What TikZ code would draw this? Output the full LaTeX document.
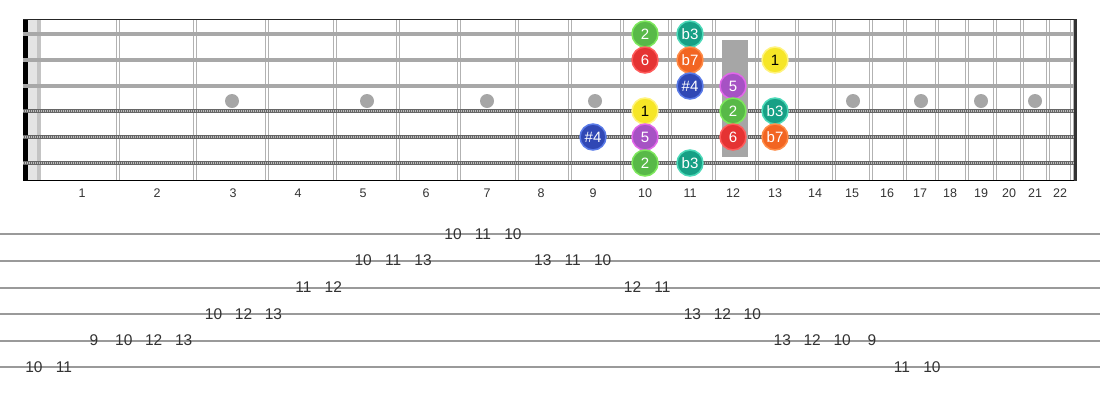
\documentclass[tikz,border=0pt]{standalone}
\usepackage{fontspec}
\setmainfont{Liberation Sans}
\definecolor{fretc}{HTML}{B2B2B2}
\definecolor{strc}{HTML}{A8A8A8}
\definecolor{woundc}{HTML}{666666}
\definecolor{woundl}{HTML}{BDBDBD}
\definecolor{tabc}{HTML}{9A9A9A}
\definecolor{inlayc}{HTML}{A6A6A6}
\definecolor{nutl}{HTML}{E4E4E4}
\definecolor{nutd}{HTML}{C4C4C4}
\definecolor{txtc}{HTML}{333333}
\definecolor{cTwoF}{HTML}{58B948}\definecolor{cTwoB}{HTML}{7DE85C}
\definecolor{cBThrF}{HTML}{17A085}\definecolor{cBThrB}{HTML}{4CD9B8}
\definecolor{cSixF}{HTML}{E53333}\definecolor{cSixB}{HTML}{FF5C5C}
\definecolor{cBSevF}{HTML}{F26522}\definecolor{cBSevB}{HTML}{FF8C48}
\definecolor{cOneF}{HTML}{F6E627}\definecolor{cOneB}{HTML}{FFF37E}
\definecolor{cSFourF}{HTML}{3048B5}\definecolor{cSFourB}{HTML}{5A7BE8}
\definecolor{cFiveF}{HTML}{A652C4}\definecolor{cFiveB}{HTML}{E266EA}
\begin{document}
\begin{tikzpicture}[x=1pt,y=-1pt,
  fretline/.style={line width=4.6pt,draw=fretc},
  fretgap/.style={line width=1.4pt,draw=white},
  plainstr/.style={line width=3.2pt,draw=strc},
  woundbase/.style={line width=4pt,draw=woundc},
  woundtex/.style={line width=2.2pt,draw=woundl,dash pattern=on 1pt off 1pt},
  tabline/.style={line width=1.8pt,draw=tabc},
  fretnum/.style={text=txtc,font=\fontsize{12.5}{14}\selectfont,inner sep=0pt},
  tabnum/.style={text=txtc,font=\fontsize{15.5}{16}\selectfont,inner sep=0pt},
  note/.style={circle,minimum size=26pt,inner sep=0pt,line width=1.5pt,text=white,font=\fontsize{15}{15}\selectfont},
  dTwo/.style={note,fill=cTwoF,draw=cTwoB},
  dBThr/.style={note,fill=cBThrF,draw=cBThrB},
  dSix/.style={note,fill=cSixF,draw=cSixB},
  dBSev/.style={note,fill=cBSevF,draw=cBSevB},
  dOne/.style={note,fill=cOneF,draw=cOneB,text=black},
  dSFour/.style={note,fill=cSFourF,draw=cSFourB},
  dFive/.style={note,fill=cFiveF,draw=cFiveB}]
\useasboundingbox (0,0) rectangle (1100,400);
% nut
\fill[black] (23,19) rectangle (28,181);
\fill[nutl] (28,20) rectangle (37,180);
\fill[nutd] (37,20) rectangle (41,180);
% frets
\foreach \x in {118,195,267,335,398,459,517,570,622,670,714,757,797,834,871,905,937,967,995,1022,1048,1072}{
  \draw[fretline] (\x,20) -- (\x,180);
  \draw[fretgap] (\x,20) -- (\x,180);
}
% inlays
\foreach \x in {232,367,487,595,853,921,981,1035}
  \fill[inlayc] (\x,101) circle (7pt);
% strings
\foreach \y in {34,60,86}
  \draw[plainstr] (23,\y) -- (1075,\y);
\foreach \y in {111,137,163}{
  \draw[woundbase] (23,\y) -- (1075,\y);
  \draw[woundtex] (23,\y) -- (1075,\y);
}
% 12th fret marker
\fill[inlayc] (722,40) rectangle (748,157);
% borders
\draw[black!85,line width=1.6pt] (23,19.5) -- (1076,19.5);
\draw[black,line width=1.6pt] (23,180.5) -- (1076,180.5);
\draw[black!80,line width=2.5pt] (1075.5,19) -- (1075.5,181.3);
% fret numbers
\foreach \n/\x in {1/82,2/157,3/233,4/298,5/363,6/426,7/487,8/541,9/593,10/645,11/690,12/733,13/775,14/815,15/852,16/887,17/920,18/950,19/981,20/1009,21/1035,22/1060}
  \node[fretnum] (fn\n) at (\x,193) {\n};
% notes
\node[dTwo]  (s1a) at (645,34) {2};
\node[dBThr] (s1b) at (690,34) {b3};
\node[dSix]  (s2a) at (645,60) {6};
\node[dBSev] (s2b) at (690,60) {b7};
\node[dOne]  (s2c) at (775,60) {1};
\node[dSFour](s3a) at (690,86) {\#4};
\node[dFive] (s3b) at (733,86) {5};
\node[dOne]  (s4a) at (645,111) {1};
\node[dTwo]  (s4b) at (733,111) {2};
\node[dBThr] (s4c) at (775,111) {b3};
\node[dSFour](s5a) at (593,137) {\#4};
\node[dFive] (s5b) at (645,137) {5};
\node[dSix]  (s5c) at (733,137) {6};
\node[dBSev] (s5d) at (775,137) {b7};
\node[dTwo]  (s6a) at (645,163) {2};
\node[dBThr] (s6b) at (690,163) {b3};
% tab
\foreach \y in {234,261,288,314,341,367}
  \draw[tabline] (0,\y) -- (1100,\y);
\foreach \s/\f [count=\i from 0] in {6/10,6/11,5/9,5/10,5/12,5/13,4/10,4/12,4/13,3/11,3/12,2/10,2/11,2/13,1/10,1/11,1/10,2/13,2/11,2/10,3/12,3/11,4/13,4/12,4/10,5/13,5/12,5/10,5/9,6/11,6/10}
  \node[tabnum] (t\i) at ({34+29.93*\i},{234+26.6*(\s-1)}) {\f};
\end{tikzpicture}
\end{document}
